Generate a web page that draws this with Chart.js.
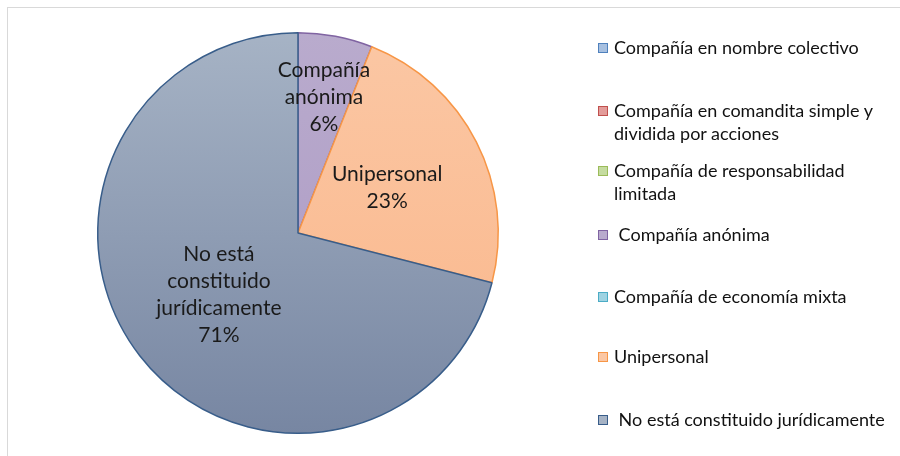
<!DOCTYPE html>
<html><head><meta charset="utf-8">
<script src="https://cdn.jsdelivr.net/npm/chart.js@4/dist/chart.umd.min.js"></script>
<style>
html,body{margin:0;padding:0;background:#fff;}
#wrap{position:relative;width:900px;height:456px;overflow:hidden;}
#frame{position:absolute;left:7px;top:7px;width:1000px;height:1000px;border:1px solid #d9d9d9;box-sizing:border-box;}
canvas{position:absolute;left:0;top:0;}
#legend{position:absolute;left:0;top:0;width:900px;height:456px;font-family:Lato,"Open Sans",sans-serif;font-size:18px;color:#111;}
.li{position:absolute;left:598px;white-space:nowrap;line-height:23px;}
.sw{position:absolute;left:0;width:8px;height:8px;border:1px solid;}
.tx{position:absolute;left:16px;top:0;}
</style></head>
<body><div id="wrap"><div id="frame"></div><canvas id="c" width="900" height="456"></canvas><div id="legend"></div></div>
<script>
const categories = ["Compañía en nombre colectivo","Compañía en comandita simple y dividida por acciones","Compañía de responsabilidad limitada"," Compañía anónima","Compañía de economía mixta","Unipersonal"," No está constituido jurídicamente"];
const legendLines = [["Compañía en nombre colectivo"],["Compañía en comandita simple y","dividida por acciones"],["Compañía de responsabilidad","limitada"],[" Compañía anónima"],["Compañía de economía mixta"],["Unipersonal"],[" No está constituido jurídicamente"]];
const values = [0,0,0,6,0,23,71];
const sliceLabels = [[],[],[],["Compañía","anónima","6%"],[],["Unipersonal","23%"],["No está","constituido","jurídicamente","71%"]];
const colorsTop = ["#a7c0e0","#e39c9a","#c5dca0","#b9abcd","#9fd3e2","#fbc7a4","#a6b3c5"];
const colorsBot = ["#8eaedb","#d98482","#b4d28a","#ab98c3","#84c6d9","#fab68a","#7786a2"];
const borders = ["#4f81bd","#c0504d","#9bbb59","#8064a2","#4bacc6","#f79646","#385d8a"];
const legendTop = [36,99,159,223,285,345,408];
const labelRadius = [0.6,0.6,0.6,0.69,0.6,0.5,0.5];

const lg = document.getElementById('legend');
legendLines.forEach((lines,i)=>{
  const d=document.createElement('div');d.className='li';d.style.top=legendTop[i]+'px';
  const s=document.createElement('div');s.className='sw';s.style.top='7px';
  s.style.borderColor=borders[i];s.style.background=colorsTop[i];d.appendChild(s);
  const t=document.createElement('div');t.className='tx';t.innerHTML=lines.map(x=>x.replace(/^ /,'&nbsp;')).join('<br>');d.appendChild(t);
  lg.appendChild(d);
});

const labelPlugin = {
  id:'sliceLabels',
  afterDatasetsDraw(chart){
    const ctx=chart.ctx; const meta=chart.getDatasetMeta(0);
    ctx.save();
    ctx.font='21px Lato, "Open Sans", sans-serif';ctx.fillStyle='#1a1a1a';ctx.textAlign='center';ctx.textBaseline='middle';
    meta.data.forEach((arc,i)=>{
      if(!values[i])return;
      const p=arc.getProps(['x','y','startAngle','endAngle','outerRadius'],true);
      const a=(p.startAngle+p.endAngle)/2, r=p.outerRadius*labelRadius[i];
      const cx=p.x+Math.cos(a)*r, cy=p.y+Math.sin(a)*r;
      const L=sliceLabels[i], lh=27;
      L.forEach((s,k)=>ctx.fillText(s,cx,cy+(k-(L.length-1)/2)*lh));
    });
    ctx.restore();
  }
};

function grad(ctx,i){
  const ca=ctx.chart.chartArea; if(!ca) return colorsTop[i];
  const g=ctx.chart.ctx.createLinearGradient(0,ca.top,0,ca.bottom);
  g.addColorStop(0,colorsTop[i]);g.addColorStop(1,colorsBot[i]);return g;
}

new Chart(document.getElementById('c'),{
  type:'pie',
  data:{labels:categories,datasets:[{data:values,
    backgroundColor:(ctx)=>grad(ctx,ctx.dataIndex),
    borderColor:borders,
    borderWidth:values.map(v=>v?1.5:0)}]},
  options:{responsive:false,animation:false,
    layout:{padding:{left:97,right:401,top:32,bottom:22}},
    plugins:{legend:{display:false},tooltip:{enabled:false}}},
  plugins:[labelPlugin]
});
</script></body></html>
